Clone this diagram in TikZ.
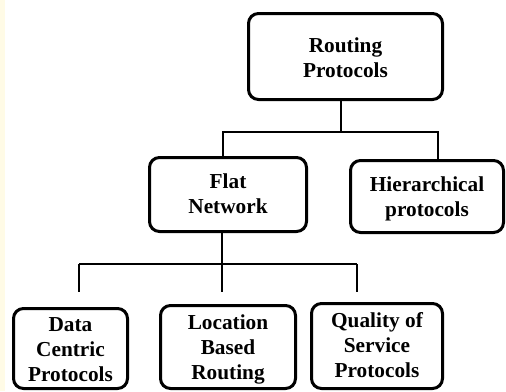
\documentclass[tikz,border=0pt]{standalone}
\usepackage{fontspec}
\setmainfont{Liberation Serif}
\usepackage{tikz}

\definecolor{strip}{HTML}{FFFBE6}
\tikzset{
  box/.style={draw, line width=3pt, rounded corners=10pt, align=center, inner sep=0pt,
    font=\bfseries\fontsize{21.3}{25}\selectfont},
  drop/.style={text height=#1},
  link/.style={line width=2.4pt}
}

\begin{document}
\begin{tikzpicture}[x=1pt, y=-1pt]
\useasboundingbox (0,0) rectangle (506,391);
\fill[white] (0,0) rectangle (506,391);
\fill[strip] (0,0) rectangle (4.5,391);

\path (345.5,56.5) node[box, drop=43pt, minimum width=194pt, minimum height=86pt] (root) {Routing\\Protocols}
      (228,194.5) node[box, drop=37.6pt, minimum width=157pt, minimum height=74pt] (flat) {Flat\\Network}
      (427,196.5) node[box, drop=45pt, minimum width=153pt, minimum height=72pt] (hier) {Hierarchical\\protocols}
      (70.5,348.5) node[box, drop=67pt, minimum width=114pt, minimum height=80pt] (dcp) {Data\\Centric\\Protocols}
      (228,347) node[box, drop=70.6pt, minimum width=135pt, minimum height=83pt] (lbr) {Location\\Based\\Routing}
      (377,346) node[box, drop=64pt, minimum width=131pt, minimum height=85pt] (qos) {Quality of\\Service\\Protocols};

\coordinate (rj) at (341,132);
\coordinate (rl) at (223,132);
\coordinate (rr) at (438,132);
\coordinate (fj) at (222,264);
\coordinate (fl) at (79,264);
\coordinate (fr) at (357,264);

\draw[link] (root.south -| rj) -- (rj);
\draw[link] (flat.north -| rl) -- (rl) -- (rr) -- (hier.north -| rr);

\draw[link] (flat.south -| fj) -- (fj);
\draw[link] (fl) -- (fr);
\draw[link, shorten >=15pt] (fl) -- (dcp.north -| fl);
\draw[link, shorten >=12pt] (fj) -- (lbr.north -| fj);
\draw[link, shorten >=10pt] (fr) -- (qos.north -| fr);
\end{tikzpicture}
\end{document}
